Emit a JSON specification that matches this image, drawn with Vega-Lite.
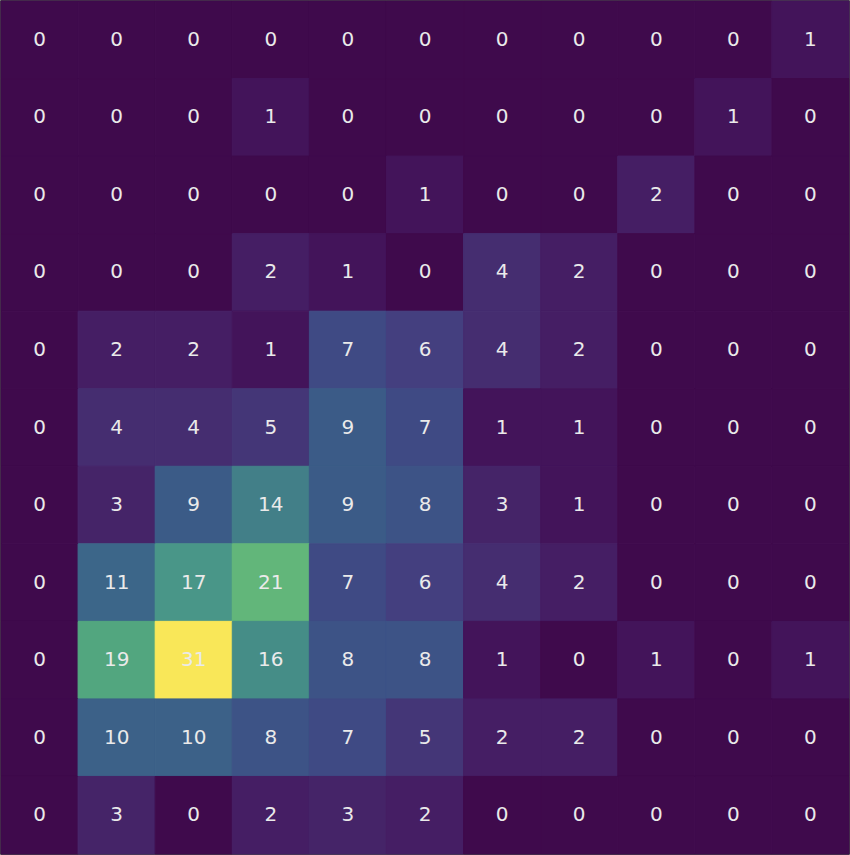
{
  "$schema": "https://vega.github.io/schema/vega-lite/v6.json",
  "autosize": {"type": "fit", "contains": "padding"},
  "width": 850,
  "height": 855,
  "padding": 0,
  "background": "white",
  "config": {"view": {"stroke": "#111111", "strokeWidth": 1.5}},
  "datasets": {
    "grid": [
      {"r":0,"c":0,"v":0},{"r":0,"c":1,"v":0},{"r":0,"c":2,"v":0},{"r":0,"c":3,"v":0},{"r":0,"c":4,"v":0},{"r":0,"c":5,"v":0},{"r":0,"c":6,"v":0},{"r":0,"c":7,"v":0},{"r":0,"c":8,"v":0},{"r":0,"c":9,"v":0},{"r":0,"c":10,"v":1},
      {"r":1,"c":0,"v":0},{"r":1,"c":1,"v":0},{"r":1,"c":2,"v":0},{"r":1,"c":3,"v":1},{"r":1,"c":4,"v":0},{"r":1,"c":5,"v":0},{"r":1,"c":6,"v":0},{"r":1,"c":7,"v":0},{"r":1,"c":8,"v":0},{"r":1,"c":9,"v":1},{"r":1,"c":10,"v":0},
      {"r":2,"c":0,"v":0},{"r":2,"c":1,"v":0},{"r":2,"c":2,"v":0},{"r":2,"c":3,"v":0},{"r":2,"c":4,"v":0},{"r":2,"c":5,"v":1},{"r":2,"c":6,"v":0},{"r":2,"c":7,"v":0},{"r":2,"c":8,"v":2},{"r":2,"c":9,"v":0},{"r":2,"c":10,"v":0},
      {"r":3,"c":0,"v":0},{"r":3,"c":1,"v":0},{"r":3,"c":2,"v":0},{"r":3,"c":3,"v":2},{"r":3,"c":4,"v":1},{"r":3,"c":5,"v":0},{"r":3,"c":6,"v":4},{"r":3,"c":7,"v":2},{"r":3,"c":8,"v":0},{"r":3,"c":9,"v":0},{"r":3,"c":10,"v":0},
      {"r":4,"c":0,"v":0},{"r":4,"c":1,"v":2},{"r":4,"c":2,"v":2},{"r":4,"c":3,"v":1},{"r":4,"c":4,"v":7},{"r":4,"c":5,"v":6},{"r":4,"c":6,"v":4},{"r":4,"c":7,"v":2},{"r":4,"c":8,"v":0},{"r":4,"c":9,"v":0},{"r":4,"c":10,"v":0},
      {"r":5,"c":0,"v":0},{"r":5,"c":1,"v":4},{"r":5,"c":2,"v":4},{"r":5,"c":3,"v":5},{"r":5,"c":4,"v":9},{"r":5,"c":5,"v":7},{"r":5,"c":6,"v":1},{"r":5,"c":7,"v":1},{"r":5,"c":8,"v":0},{"r":5,"c":9,"v":0},{"r":5,"c":10,"v":0},
      {"r":6,"c":0,"v":0},{"r":6,"c":1,"v":3},{"r":6,"c":2,"v":9},{"r":6,"c":3,"v":14},{"r":6,"c":4,"v":9},{"r":6,"c":5,"v":8},{"r":6,"c":6,"v":3},{"r":6,"c":7,"v":1},{"r":6,"c":8,"v":0},{"r":6,"c":9,"v":0},{"r":6,"c":10,"v":0},
      {"r":7,"c":0,"v":0},{"r":7,"c":1,"v":11},{"r":7,"c":2,"v":17},{"r":7,"c":3,"v":21},{"r":7,"c":4,"v":7},{"r":7,"c":5,"v":6},{"r":7,"c":6,"v":4},{"r":7,"c":7,"v":2},{"r":7,"c":8,"v":0},{"r":7,"c":9,"v":0},{"r":7,"c":10,"v":0},
      {"r":8,"c":0,"v":0},{"r":8,"c":1,"v":19},{"r":8,"c":2,"v":31},{"r":8,"c":3,"v":16},{"r":8,"c":4,"v":8},{"r":8,"c":5,"v":8},{"r":8,"c":6,"v":1},{"r":8,"c":7,"v":0},{"r":8,"c":8,"v":1},{"r":8,"c":9,"v":0},{"r":8,"c":10,"v":1},
      {"r":9,"c":0,"v":0},{"r":9,"c":1,"v":10},{"r":9,"c":2,"v":10},{"r":9,"c":3,"v":8},{"r":9,"c":4,"v":7},{"r":9,"c":5,"v":5},{"r":9,"c":6,"v":2},{"r":9,"c":7,"v":2},{"r":9,"c":8,"v":0},{"r":9,"c":9,"v":0},{"r":9,"c":10,"v":0},
      {"r":10,"c":0,"v":0},{"r":10,"c":1,"v":3},{"r":10,"c":2,"v":0},{"r":10,"c":3,"v":2},{"r":10,"c":4,"v":3},{"r":10,"c":5,"v":2},{"r":10,"c":6,"v":0},{"r":10,"c":7,"v":0},{"r":10,"c":8,"v":0},{"r":10,"c":9,"v":0},{"r":10,"c":10,"v":0}
    ]
  },
  "data": {"name": "grid"},
  "encoding": {
    "x": {"field": "c", "type": "ordinal", "axis": null, "scale": {"paddingInner": 0, "paddingOuter": 0}},
    "y": {"field": "r", "type": "ordinal", "axis": null, "scale": {"paddingInner": 0, "paddingOuter": 0}}
  },
  "layer": [
    {
      "mark": {"type": "rect", "strokeWidth": 1},
      "encoding": {
        "fill": {"field": "v", "type": "quantitative", "legend": null, "scale": {"type": "linear", "domain": [0, 1, 2, 3, 6, 7, 9, 11, 14, 16, 17, 19, 21, 31], "range": ["#3f0a4c", "#43145a", "#451e64", "#452468", "#443f7f", "#3f4a84", "#3b5b87", "#3c6689", "#427f88", "#458d87", "#499688", "#52a67f", "#62b67a", "#f9e758"], "interpolate": "rgb"}},
        "stroke": {"field": "v", "type": "quantitative", "legend": null, "scale": {"type": "linear", "domain": [0, 1, 2, 3, 6, 7, 9, 11, 14, 16, 17, 19, 21, 31], "range": ["#3f0a4c", "#43145a", "#451e64", "#452468", "#443f7f", "#3f4a84", "#3b5b87", "#3c6689", "#427f88", "#458d87", "#499688", "#52a67f", "#62b67a", "#f9e758"], "interpolate": "rgb"}}
      }
    },
    {
      "mark": {"type": "text", "font": "DejaVu Sans", "fontSize": 20, "color": "#eaeaea", "align": "center", "baseline": "middle"},
      "encoding": {
        "text": {"field": "v", "type": "quantitative"}
      }
    }
  ]
}
